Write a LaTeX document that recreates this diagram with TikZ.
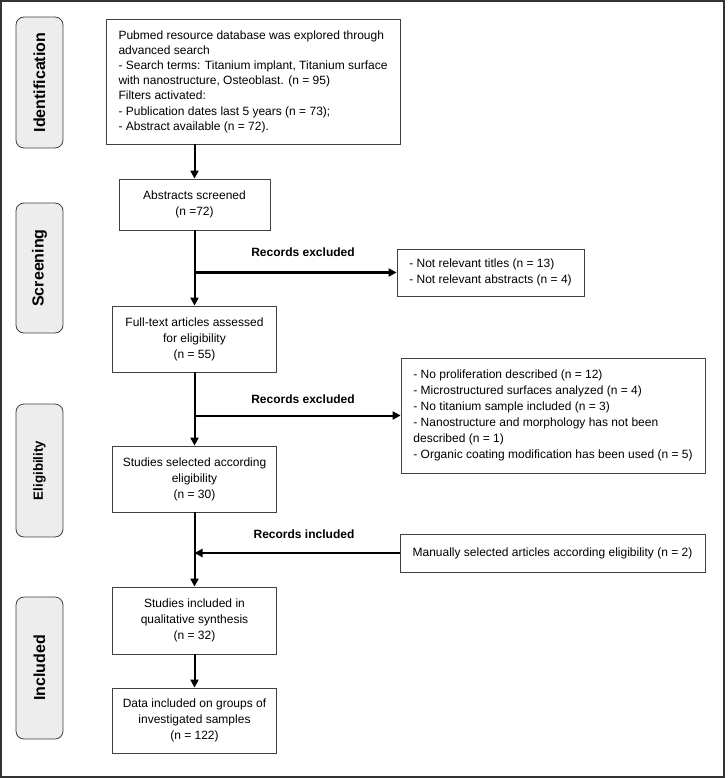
\documentclass[tikz,border=0pt]{standalone}
\usepackage{fontspec}
\setmainfont{Liberation Sans}
\usetikzlibrary{arrows.meta}

\tikzset{
  stage/.style={draw=black!75, fill=black!7, rounded corners=6pt, line width=0.6pt,
    rotate=90, inner sep=0pt, minimum height=35.25pt,
    font=\fontsize{12}{14}\selectfont\bfseries},
  stage elig/.style={font=\fontsize{10}{12}\selectfont\bfseries},
  stepbox/.style={draw=black!75, line width=0.6pt, inner sep=0pt, align=center,
    font=\fontsize{9}{12}\selectfont},
  listbox/.style={stepbox, align=left},
  flow/.style={line width=1.5pt, -{Triangle[length=6pt,width=6pt]}},
  tag/.style={font=\fontsize{9}{11}\selectfont\bfseries}
}

\begin{document}
\begin{tikzpicture}[x=0.75pt, y=-0.75pt]
  \useasboundingbox (0,0) rectangle (728,778);
  \draw [line width=1.2pt, black!80] (1,1) rectangle (724,777);

  % stage labels on the left
  \foreach \m/\l/\y/\h in {ident/Identification/82.5/98.25pt, screen/Screening/268/97.5pt,
      elig/Eligibility/470.5/99.75pt, incl/Included/668/106.5pt}
    \node [stage, stage \m/.try, minimum width=\h] (stage-\m) at (39.5,\y) {\l};

  % main flow
  \node [listbox, minimum width=220.5pt, minimum height=93.75pt,
    font=\fontsize{9}{11.4}\selectfont] (search) at (253,81.5)
    {Pubmed resource database was explored through\\ advanced search\\
     - Search terms: Titanium implant, Titanium surface\\
     with nanostructure, Osteoblast. (n = 95)\\ Filters activated:\\
     - Publication dates last 5 years (n = 73);\\ - Abstract available (n = 72).};
  \node [stepbox, minimum width=113.25pt, minimum height=38.25pt] (abstracts) at (194.5,204.5)
    {Abstracts screened\\ (n =72)};
  \node [stepbox, minimum width=123pt, minimum height=49.5pt] (fulltext) at (194.5,339)
    {Full-text articles assessed\\ for eligibility\\ (n = 55)};
  \node [stepbox, minimum width=123pt, minimum height=49.5pt] (selected) at (194.5,479)
    {Studies selected according\\ eligibility\\ (n = 30)};
  \node [stepbox, minimum width=123pt, minimum height=50.25pt] (included) at (194.5,620.5)
    {Studies included in\\ qualitative synthesis\\ (n = 32)};
  \node [stepbox, minimum width=123pt, minimum height=48.75pt] (data) at (194.5,720.5)
    {Data included on groups of\\ investigated samples\\ (n = 122)};

  % side boxes
  \node [listbox, minimum width=140.25pt, minimum height=35.25pt] (notrel) at (490.5,272.5)
    {- Not relevant titles (n = 13)\\ - Not relevant abstracts (n = 4)};
  \node [listbox, minimum width=228pt, minimum height=86.25pt] (reasons) at (553,415.5)
    {- No proliferation described (n = 12)\\ - Microstructured surfaces analyzed (n = 4)\\
     - No titanium sample included (n = 3)\\ - Nanostructure and morphology has not been\\
     described (n = 1)\\ - Organic coating modification has been used (n = 5)};
  \node [stepbox, minimum width=228.75pt, minimum height=28.5pt] (manual) at (552.5,553)
    {Manually selected articles according eligibility (n = 2)};

  \node [tag] (tag-excl1) at (303,252) {Records excluded};
  \node [tag] (tag-excl2) at (303,399) {Records excluded};
  \node [tag] (tag-incl) at (304,534) {Records included};

  % connectors
  \draw [flow] (abstracts.north |- search.south) -- (abstracts.north);
  \draw [flow] (abstracts.south) -- (fulltext.north);
  \draw [flow, line width=2.2pt] (abstracts.south |- notrel.west) -- (notrel.west);
  \draw [flow] (fulltext.south) -- (selected.north);
  \draw [flow] (fulltext.south |- reasons.west) -- (reasons.west);
  \draw [flow] (selected.south) -- (included.north);
  \draw [flow] (manual.west) -- (selected.south |- manual.west);
  \draw [flow] (included.south) -- (data.north);
\end{tikzpicture}
\end{document}
